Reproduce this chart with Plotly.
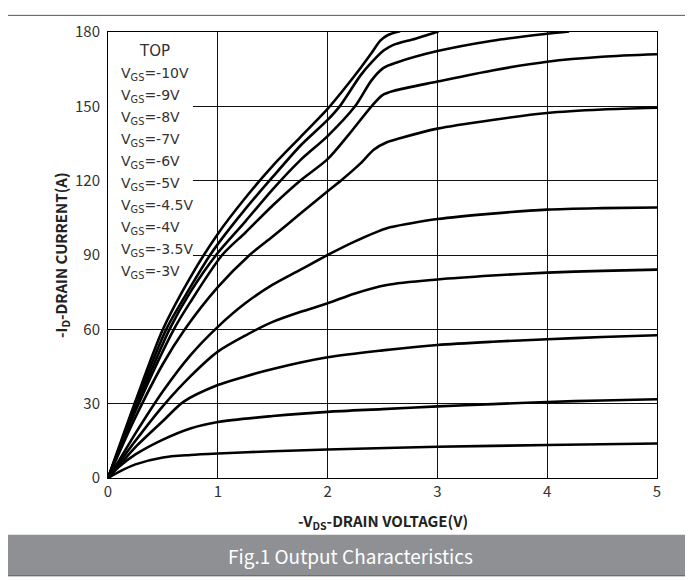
import plotly.graph_objects as go

# ---- data ----
vgs_labels = ["-10V", "-9V", "-8V", "-7V", "-6V", "-5V", "-4.5V", "-4V", "-3.5V", "-3V"]

v_10 = [0, 0.25, 0.5, 0.75, 1.0, 1.25, 1.5, 1.75, 2.0, 2.15, 2.3, 2.4, 2.48, 2.55, 2.66]
i_10 = [0, 31, 60, 81, 98.5, 113, 126, 137.5, 149, 157, 165.5, 171.5, 176.5, 178.8, 180.3]

v_9 = [0, 0.25, 0.53, 0.75, 0.93, 1.0, 1.25, 1.5, 1.75, 2.0, 2.11, 2.3, 2.4, 2.51, 2.6, 2.8, 3.01]
i_9 = [0, 29.5, 60, 77, 90, 94.4, 108.5, 121.5, 134, 144.5, 150, 162.5, 167.7, 172.5, 174.8, 177.3, 180.2]

v_8 = [0, 0.25, 0.56, 0.75, 0.99, 1.25, 1.5, 1.75, 2.0, 2.25, 2.4, 2.51, 2.63, 3.0, 3.5, 4.0, 4.2]
i_8 = [0, 28, 60, 75, 90.3, 103.5, 116.5, 128.2, 138, 150, 160.5, 165.5, 167.7, 172.3, 176.5, 179.3, 180.2]

v_7 = [0, 0.25, 0.6, 0.75, 1.04, 1.25, 1.5, 1.75, 2.0, 2.2, 2.4, 2.5, 2.6, 3.0, 3.5, 4.0, 4.5, 5.0]
i_7 = [0, 27, 60, 71, 90, 99, 110, 120, 128.7, 139, 150, 154.5, 156.2, 160, 164.5, 168, 170, 171]

v_6 = [0, 0.25, 0.5, 0.7, 1.0, 1.29, 1.5, 1.75, 2.0, 2.12, 2.3, 2.42, 2.54, 2.65, 3.0, 3.5, 4.0, 4.5, 5.0]
i_6 = [0, 24.5, 46, 60, 77, 90, 97.5, 106.6, 115.7, 120, 127, 132.5, 135.5, 137, 141, 144.5, 147.3, 148.7, 149.4]

v_5 = [0, 0.1, 0.25, 0.5, 0.75, 1.0, 1.25, 1.5, 1.75, 2.0, 2.25, 2.54, 2.75, 3.0, 3.5, 4.0, 4.5, 5.0]
i_5 = [0, 7, 18, 35, 49.5, 61, 70.5, 78, 84, 90, 95.5, 100.8, 102.7, 104.5, 106.7, 108.3, 108.9, 109.2]

v_45 = [0, 0.1, 0.25, 0.5, 0.75, 1.0, 1.25, 1.5, 1.75, 2.0, 2.25, 2.54, 3.0, 3.5, 4.0, 4.5, 5.0]
i_45 = [0, 6, 15, 29, 41, 51, 57.5, 63, 67, 70.5, 74.5, 77.9, 80.1, 81.7, 82.9, 83.6, 84.1]

v_4 = [0, 0.1, 0.25, 0.5, 0.69, 1.0, 1.25, 1.5, 2.0, 2.5, 3.0, 3.5, 4.0, 4.5, 5.0]
i_4 = [0, 5, 12.5, 23, 30.8, 37.5, 41, 44, 48.7, 51.5, 53.7, 55, 56, 56.9, 57.6]

v_35 = [0, 0.1, 0.25, 0.5, 0.75, 1.0, 1.5, 2.0, 2.5, 3.0, 3.5, 4.0, 4.5, 5.0]
i_35 = [0, 4.5, 9.5, 15.5, 20, 22.6, 25, 26.7, 27.8, 28.9, 29.8, 30.7, 31.3, 31.8]

v_3 = [0, 0.1, 0.25, 0.5, 0.75, 1.0, 1.5, 2.0, 3.0, 4.0, 5.0]
i_3 = [0, 2.5, 5.5, 8.3, 9.3, 9.9, 10.8, 11.5, 12.6, 13.3, 13.9]

curves = [(v_10, i_10), (v_9, i_9), (v_8, i_8), (v_7, i_7), (v_6, i_6),
          (v_5, i_5), (v_45, i_45), (v_4, i_4), (v_35, i_35), (v_3, i_3)]

x_ticks = [0, 1, 2, 3, 4, 5]
y_ticks = [0, 30, 60, 90, 120, 150, 180]

FONT = "Noto Sans CJK SC"
LFONT = "DejaVu Sans"

# screen pixel -> paper coordinates (plot area on screen: x 108..657, y 22..478)
def px_x(px):
    return (px - 108) / 549.0

def px_y(py):
    return (478 - py) / 456.0

fig = go.Figure()

# white box behind the legend text (hides grid lines)
fig.add_shape(type="rect", xref="x", yref="y", x0=0, x1=(193 - 108) / 109.8, y0=(478 - 272) / 2.533, y1=180,
              line=dict(width=0), fillcolor="white", layer="between")

for (vv, ii), lab in zip(curves, vgs_labels):
    fig.add_trace(go.Scatter(x=vv, y=ii, mode="lines", name=lab,
                             line=dict(color="black", width=2.6, shape="spline", smoothing=0.8),
                             hoverinfo="skip", showlegend=False))

fig.add_shape(type="rect", xref="paper", yref="paper", x0=px_x(6), x1=px_x(687), y0=px_y(578), y1=px_y(536),
              line=dict(width=0), fillcolor="#8e9094", layer="below")
fig.add_shape(type="rect", xref="paper", yref="paper", x0=px_x(6), x1=px_x(687), y0=px_y(578), y1=px_y(5),
              line=dict(color="#555555", width=1), fillcolor="rgba(0,0,0,0)", layer="below")

annotations = [
    dict(text="TOP", x=px_x(154), y=px_y(41), xref="paper", yref="paper", showarrow=False,
         xanchor="center", yanchor="middle", font=dict(family=LFONT, size=15, color="#333333")),
]
leg_y = [65, 87, 109.5, 132, 154.5, 177, 199.5, 222, 244.5, 267]
for lab, yy in zip(vgs_labels, leg_y):
    annotations.append(dict(text="V<sub>GS</sub>=" + lab, x=px_x(119), y=px_y(yy), xref="paper", yref="paper",
                            showarrow=False, xanchor="left", yanchor="middle",
                            font=dict(family=LFONT, size=14, color="#333333")))

annotations += [
    dict(text="<b>-V<sub>DS</sub>-DRAIN VOLTAGE(V)</b>", x=px_x(383), y=px_y(522), xref="paper", yref="paper",
         showarrow=False, xanchor="center", yanchor="middle", font=dict(family=FONT, size=15, color="#222222")),
    dict(text="<b>-I<sub>D</sub>-DRAIN CURRENT(A)</b>", x=px_x(61), y=px_y(250), xref="paper", yref="paper",
         showarrow=False, xanchor="center", yanchor="middle", textangle=-90,
         font=dict(family=FONT, size=15, color="#222222")),
    dict(text="Fig.1 Output Characteristics", x=px_x(350), y=px_y(557), xref="paper", yref="paper",
         showarrow=False, xanchor="center", yanchor="middle", font=dict(family=FONT, size=19, color="white")),
]

# the page body adds an 8px offset, so the figure is 8px smaller than the window
fig.update_layout(
    width=685, height=572,
    margin=dict(l=100, r=36, t=14, b=102),
    paper_bgcolor="white", plot_bgcolor="white",
    annotations=annotations,
    xaxis=dict(range=[0, 5], tickvals=x_ticks, ticktext=[str(t) for t in x_ticks],
               showgrid=True, gridcolor="#111111", gridwidth=1, zeroline=False,
               showline=True, linecolor="black", linewidth=1, mirror=True, ticks="",
               tickfont=dict(family=FONT, size=15, color="#333333"), fixedrange=True),
    yaxis=dict(range=[0, 180], tickvals=y_ticks, ticktext=[str(t) for t in y_ticks],
               showgrid=True, gridcolor="#111111", gridwidth=1, zeroline=False,
               showline=True, linecolor="black", linewidth=1, mirror=True, ticks="",
               ticklabelstandoff=4,
               tickfont=dict(family=FONT, size=15, color="#333333"), fixedrange=True),
)

fig.write_html("out.html")
